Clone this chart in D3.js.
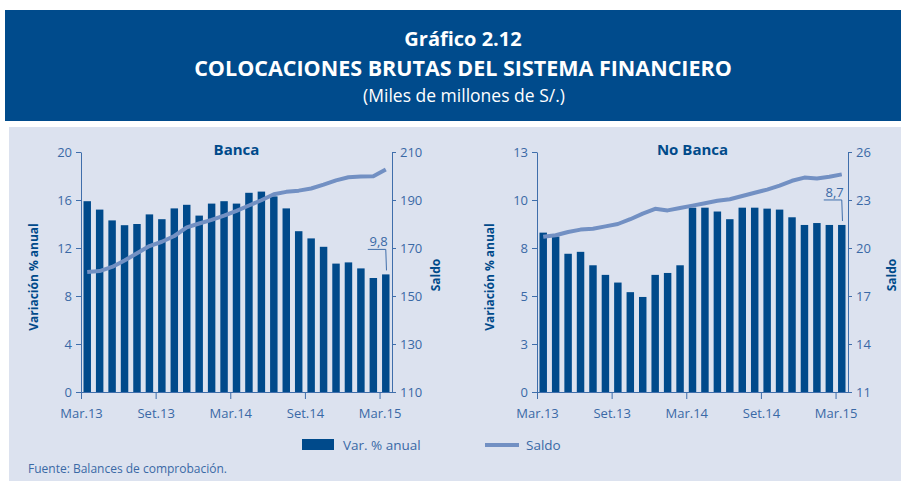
<!DOCTYPE html>
<html>
<head>
<meta charset="utf-8">
<script src="https://cdn.jsdelivr.net/npm/d3@7"></script>
<style>
  body { margin: 0; background: #fff; }
  svg { display: block; font-family: "Open Sans", sans-serif; }
</style>
</head>
<body>
<svg width="901" height="481"></svg>
<script>
// datos del grafico
var months = ["Mar.13","Abr.13","May.13","Jun.13","Jul.13","Ago.13","Set.13","Oct.13","Nov.13","Dic.13",
  "Ene.14","Feb.14","Mar.14","Abr.14","May.14","Jun.14","Jul.14","Ago.14","Set.14","Oct.14",
  "Nov.14","Dic.14","Ene.15","Feb.15","Mar.15"];
var tickMonths = ["Mar.13","Set.13","Mar.14","Set.14","Mar.15"];

var bancaVar = [15.9,15.2,14.3,13.9,14.0,14.8,14.4,15.3,15.6,14.7,15.7,15.9,15.7,16.6,16.7,16.3,
  15.3,13.4,12.8,12.1,10.7,10.8,10.3,9.5,9.8];
var bancaSaldo = [160.0,160.4,162.1,164.8,167.8,170.8,172.6,175.0,178.6,180.2,181.7,183.5,185.5,
  187.7,189.9,192.4,193.4,193.9,194.8,196.4,198.2,199.5,199.8,199.9,202.7];

var noBancaVar = [8.3,8.1,7.2,7.3,6.6,6.1,5.7,5.2,4.95,6.1,6.2,6.6,9.6,9.6,9.4,9.0,9.6,9.6,9.55,
  9.5,9.1,8.7,8.8,8.7,8.7];
var noBancaSaldo = [20.7,20.8,21.0,21.15,21.2,21.35,21.5,21.8,22.15,22.45,22.35,22.5,22.65,22.8,
  22.95,23.05,23.25,23.45,23.65,23.9,24.2,24.4,24.35,24.45,24.6];

var bancaVarTicks = [0,4,8,12,16,20];
var bancaSaldoTicks = [110,130,150,170,190,210];
var noBancaVarTicks = [0,2.5,5,7.5,10,12.5];
var noBancaSaldoTicks = [11,14,17,20,23,26];

var barColor = "#004a8b";
var lineColor = "#7290c3";
var axisColor = "#3f6eab";
var textColor = "#3a69a6";
var titleColor = "#004a8a";

var svg = d3.select("svg");

// fondo
svg.append("rect").attr("x", 5).attr("y", 10).attr("width", 896).attr("height", 111).attr("fill", "#004b8c");
svg.append("rect").attr("x", 9).attr("y", 127).attr("width", 892).attr("height", 354).attr("fill", "#dce2ef");

var head = svg.append("g").attr("fill", "#fff").attr("text-anchor", "middle");
head.append("text").attr("x", 463).attr("y", 46).attr("font-size", 20).attr("font-weight", "bold").text("Gráfico 2.12");
head.append("text").attr("x", 463).attr("y", 76).attr("font-size", 21.5).attr("font-weight", "bold")
  .text("COLOCACIONES BRUTAS DEL SISTEMA FINANCIERO");
head.append("text").attr("x", 464).attr("y", 102).attr("font-size", 17.5).text("(Miles de millones de S/.)");

function panel(opt) {
  var g = svg.append("g");
  var x = d3.scaleLinear().domain([0, months.length]).range([opt.x0, opt.x1]);
  var step = x(1) - x(0);
  var yL = d3.scaleLinear().domain([opt.leftTicks[0], opt.leftTicks[opt.leftTicks.length - 1]]).range([392, 152]);
  var yR = d3.scaleLinear().domain([opt.rightTicks[0], opt.rightTicks[opt.rightTicks.length - 1]]).range([392, 152]);

  g.selectAll("rect.bar")
    .data(opt.bars)
    .enter()
    .append("rect")
    .attr("class", "bar")
    .attr("x", function (d, i) { return x(i) + step * 0.2; })
    .attr("width", step * 0.6)
    .attr("y", function (d) { return yL(d); })
    .attr("height", function (d) { return yL(0) - yL(d); })
    .attr("fill", barColor);

  var line = d3.line()
    .x(function (d, i) { return x(i + 0.5); })
    .y(function (d) { return yR(d); });
  g.append("path")
    .datum(opt.line)
    .attr("d", line)
    .attr("fill", "none")
    .attr("stroke", lineColor)
    .attr("stroke-width", 4)
    .attr("stroke-linejoin", "round");

  var ax = g.append("g").attr("transform", "translate(" + opt.x0 + ",0)")
    .call(d3.axisLeft(yL).tickValues(opt.leftTicks).tickSize(5).tickPadding(4).tickSizeOuter(0)
      .tickFormat(function (d) { return Math.round(d); }));
  var axR = g.append("g").attr("transform", "translate(" + opt.x1 + ",0)")
    .call(d3.axisRight(yR).tickValues(opt.rightTicks).tickSize(4).tickPadding(4).tickSizeOuter(0));
  var axB = g.append("g").attr("transform", "translate(0,392)")
    .call(d3.axisBottom(x).tickValues([0, 6, 12, 18, 24]).tickSize(7).tickPadding(10).tickSizeOuter(0)
      .tickFormat(function (d, i) { return tickMonths[i]; }));

  [ax, axR, axB].forEach(function (a) {
    a.selectAll("path, line").attr("stroke", axisColor);
    a.selectAll("text").attr("fill", textColor).attr("font-size", 13).attr("font-family", "Open Sans");
  });

  g.append("text").attr("x", (opt.x0 + opt.x1) / 2).attr("y", 155).attr("text-anchor", "middle")
    .attr("font-size", 15).attr("font-weight", "bold").attr("fill", titleColor).text(opt.title);

  g.append("text").attr("transform", "translate(" + (opt.x0 - 43) + ",277) rotate(-90)")
    .attr("text-anchor", "middle").attr("font-size", 12).attr("font-weight", "bold")
    .attr("fill", titleColor).text("Variación % anual");
  g.append("text").attr("transform", "translate(" + (opt.x1 + 48) + ",275) rotate(-90)")
    .attr("text-anchor", "middle").attr("font-size", 12).attr("font-weight", "bold")
    .attr("fill", titleColor).text("Saldo");

  // etiqueta del ultimo dato
  var last = opt.bars.length - 1;
  var cx = x(last + 0.5);
  var top = yL(opt.bars[last]);
  var hy = top - 25;
  g.append("path")
    .attr("d", "M" + (cx - 18) + "," + hy + "H" + cx + "L" + (cx + 0.7) + "," + (top - 4))
    .attr("fill", "none").attr("stroke", axisColor).attr("stroke-width", 1);
  g.append("text").attr("x", cx + 2).attr("y", hy - 3).attr("text-anchor", "end")
    .attr("font-size", 13).attr("fill", textColor)
    .text(d3.format(".1f")(opt.bars[last]).replace(".", ","));
}

panel({ title: "Banca", x0: 81, x1: 392, bars: bancaVar, line: bancaSaldo,
  leftTicks: bancaVarTicks, rightTicks: bancaSaldoTicks });
panel({ title: "No Banca", x0: 537, x1: 848, bars: noBancaVar, line: noBancaSaldo,
  leftTicks: noBancaVarTicks, rightTicks: noBancaSaldoTicks });

// leyenda
var leg = svg.append("g");
leg.append("rect").attr("x", 302).attr("y", 439).attr("width", 32).attr("height", 11).attr("fill", barColor);
leg.append("text").attr("x", 343).attr("y", 450).attr("font-size", 13.5).attr("fill", textColor).text("Var. % anual");
leg.append("line").attr("x1", 485).attr("x2", 519).attr("y1", 445).attr("y2", 445)
  .attr("stroke", lineColor).attr("stroke-width", 4);
leg.append("text").attr("x", 526).attr("y", 450).attr("font-size", 13.5).attr("fill", textColor).text("Saldo");

svg.append("text").attr("x", 28).attr("y", 473).attr("font-size", 12).attr("fill", textColor)
  .text("Fuente: Balances de comprobación.");
</script>
</body>
</html>
